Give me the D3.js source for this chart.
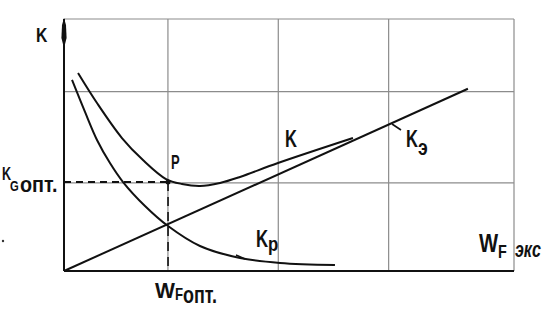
<!DOCTYPE html>
<html lang="ru">
<head>
<meta charset="UTF-8">
<script src="https://d3js.org/d3.v7.min.js"></script>
<title>K(W)</title>
<style>
  body { margin: 0; background: #fff; }
  text { font-family: "Liberation Sans", Arial, sans-serif; fill: #111; font-weight: bold; }
</style>
</head>
<body>
<div id="chart"></div>
<script>
// grid positions (W, K units)
var gridX = [0.97, 2.0, 3.03, 4.2];
var gridY = [0.91, 1.85, 2.6];

// K_p curve
var kpW = [0.075, 0.196, 0.308, 0.429, 0.551, 0.756, 0.971, 1.269, 1.643, 2.016, 2.529];
var kpK = [1.971, 1.641, 1.352, 1.114, 0.918, 0.671, 0.464, 0.258, 0.134, 0.083, 0.062];

// total K curve
var kW = [0.131, 0.308, 0.541, 0.737, 0.952, 1.101, 1.269, 1.456, 1.643, 1.997, 2.697];
var kK = [2.043, 1.733, 1.372, 1.145, 0.949, 0.898, 0.877, 0.908, 0.970, 1.114, 1.372];

// K_э straight line
var keW = [0, 3.77];
var keK = [0, 1.88];

// optimum point P
var optW = 0.971, optK = 0.918;

var width = 560, height = 316;
var svg = d3.select("#chart").append("svg")
    .attr("width", width)
    .attr("height", height);

var x = d3.scaleLinear().domain([0, 4.2]).range([64, 514]);
var y = d3.scaleLinear().domain([0, 2.6]).range([271, 19]);

// grid
svg.selectAll(".gx").data(gridX).enter().append("line")
    .attr("x1", d => x(d)).attr("x2", d => x(d))
    .attr("y1", y(0)).attr("y2", y(2.6))
    .attr("stroke", "#8c8c8c").attr("stroke-width", 1.2);
svg.selectAll(".gy").data(gridY).enter().append("line")
    .attr("x1", x(0)).attr("x2", x(4.2))
    .attr("y1", d => y(d)).attr("y2", d => y(d))
    .attr("stroke", "#8c8c8c").attr("stroke-width", 1.2);

// axes
svg.append("line")
    .attr("x1", x(0)).attr("x2", x(4.2))
    .attr("y1", y(0)).attr("y2", y(0))
    .attr("stroke", "#111").attr("stroke-width", 2);
svg.append("line")
    .attr("x1", x(0)).attr("x2", x(0))
    .attr("y1", y(0)).attr("y2", y(2.6))
    .attr("stroke", "#111").attr("stroke-width", 2);
var ax = x(0), ay = y(2.6);
svg.append("path")
    .attr("d", `M${ax},${ay - 1} L${ax + 2},${ay + 6} L${ax + 2.6},${ay + 19} L${ax},${ay + 29} L${ax - 2.6},${ay + 19} L${ax - 2},${ay + 6} Z`)
    .attr("fill", "#111");

// dashed guides to P
svg.append("line")
    .attr("x1", x(0)).attr("x2", x(optW))
    .attr("y1", y(optK)).attr("y2", y(optK))
    .attr("stroke", "#111").attr("stroke-width", 2)
    .attr("stroke-dasharray", "7,5");
svg.append("line")
    .attr("x1", x(optW)).attr("x2", x(optW))
    .attr("y1", y(optK)).attr("y2", y(0))
    .attr("stroke", "#111").attr("stroke-width", 1.6)
    .attr("stroke-dasharray", "9,6");

// curves
var line = d3.line()
    .x(d => x(d[0]))
    .y(d => y(d[1]))
    .curve(d3.curveCatmullRom.alpha(0.5));

function drawCurve(ws, ks) {
    svg.append("path")
        .datum(ws.map((w, i) => [w, ks[i]]))
        .attr("d", line)
        .attr("fill", "none")
        .attr("stroke", "#111")
        .attr("stroke-width", 2);
}
drawCurve(kpW, kpK);
drawCurve(kW, kK);
drawCurve(keW, keK);

svg.append("circle")
    .attr("cx", x(optW)).attr("cy", y(optK))
    .attr("r", 2.5).attr("fill", "#111");

// leader ticks for labels
svg.append("line").attr("x1", 392).attr("y1", 124).attr("x2", 401).attr("y2", 130)
    .attr("stroke", "#111").attr("stroke-width", 1.6);
svg.append("line").attr("x1", 236).attr("y1", 255).attr("x2", 245).attr("y2", 259)
    .attr("stroke", "#111").attr("stroke-width", 1.4);
svg.append("circle").attr("cx", 3).attr("cy", 241).attr("r", 1.2).attr("fill", "#333");

// labels: narrow hand-lettered look via horizontal squeeze
function txt(tx, ty, s, size, sx, italic) {
    svg.append("text")
        .attr("transform", `translate(${tx},${ty}) scale(${sx},1)`)
        .attr("font-size", size)
        .attr("font-style", italic ? "italic" : "normal")
        .text(s);
}
txt(36, 42, "K", 21, 0.75);
txt(2, 180, "K", 18, 0.7);
txt(10, 191, "G", 15, 0.75);
txt(20, 192, "опт.", 22, 0.9);
txt(171, 169, "Р", 20, 0.65);
txt(285, 147, "K", 23, 0.72);
txt(406, 147, "K", 23, 0.72);
txt(418, 155, "э", 22, 0.8);
txt(256, 247, "K", 24, 0.7);
txt(268, 251, "p", 21, 0.8);
txt(479, 252, "W", 26, 0.78);
txt(498, 258, "F", 18, 0.8);
txt(515, 257, "экс", 22, 0.73, true);
txt(155, 298, "W", 22, 0.96);
txt(175, 300, "F", 16.5, 0.8);
txt(183, 303, "опт.", 23, 0.78);
</script>
</body>
</html>
